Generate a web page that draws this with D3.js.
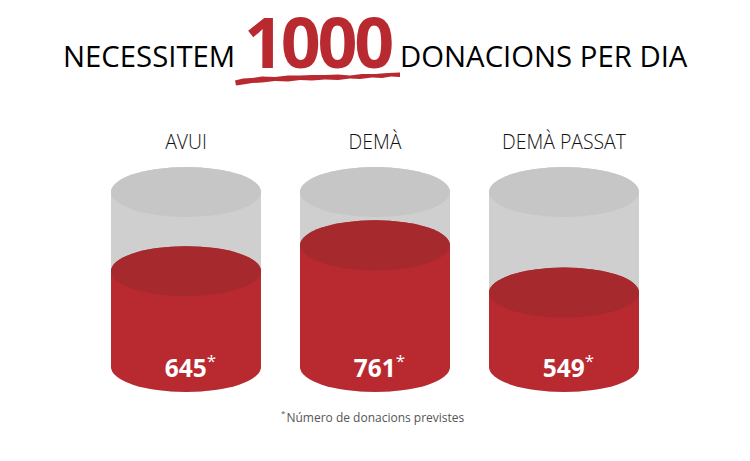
<!DOCTYPE html>
<html>
<head>
<meta charset="utf-8">
<script src="https://cdn.jsdelivr.net/npm/d3@7"></script>
<style>
  html, body { margin: 0; padding: 0; background: #fff; }
  text { font-family: "Open Sans", sans-serif; }
</style>
</head>
<body>
<svg id="chart"></svg>
<script>
const categories = ['AVUI', 'DEMÀ', 'DEMÀ PASSAT']
const donations = [645, 761, 549]
const goal = 1000
const titleLeft = 'NECESSITEM'
const titleRight = 'DONACIONS PER DIA'
const footnote = 'Número de donacions previstes'

const width = 750, height = 461
const rx = 75, ry = 25
const red = '#b92a30', redTop = '#a6292d', grey = '#cfcfcf', greyTop = '#c6c6c6'

const svg = d3.select('#chart').attr('width', width).attr('height', height)

const x = d3.scaleBand().domain(categories).range([111, 639]).paddingInner(39 / 189)
// the cylinders do not start at zero in the picture
const y = d3.scaleLinear().domain([215, goal]).range([367, 192])

// title
svg.append('text').attr('x', 63).attr('y', 67).attr('font-size', 29.3).attr('fill', '#000').text(titleLeft)
svg.append('text').attr('x', 244).attr('y', 68).attr('font-size', 70).attr('font-weight', 700)
  .attr('letter-spacing', -3.3).attr('fill', red).text(goal)
svg.append('text').attr('x', 400).attr('y', 67).attr('font-size', 29.3).attr('fill', '#000').text(titleRight)

// brush underline
svg.append('path')
  .attr('d', 'M235,80.5 L243,78.5 L252,78 L262,76.5 L275,77 L288,75.5 L300,75.5 L312,75 L325,75 L338,74.5 L350,75.5 L362,74 L375,74 L388,73 L400,72.5 ' +
    'L400,77 L391,76.5 L382,78 L372,77.5 L360,79 L350,78.5 L338,80 L325,79.5 L312,80.5 L300,80 L288,81.5 L275,81 L262,82.5 L252,83 L243,84.5 L236,85.5 Z')
  .attr('fill', red)

const cyl = svg.selectAll('g.cyl')
  .data(categories.map((c, i) => ({ category: c, value: donations[i] })))
  .join('g')
  .attr('class', 'cyl')
  .attr('transform', d => 'translate(' + (x(d.category) + x.bandwidth() / 2) + ',0)')

cyl.append('text').attr('y', 149).attr('text-anchor', 'middle').attr('font-size', 19.4)
  .attr('font-weight', 300).attr('fill', '#111').text(d => d.category)

// body shape between two ellipse centres
const body = (top, bottom) => 'M' + (-rx) + ',' + top + 'V' + bottom +
  'A' + rx + ',' + ry + ' 0 0 0 ' + rx + ',' + bottom + 'V' + top +
  'A' + rx + ',' + ry + ' 0 0 0 ' + (-rx) + ',' + top + 'Z'

cyl.append('path').attr('d', body(y(goal), y.range()[0])).attr('fill', grey)
cyl.append('ellipse').attr('cy', y(goal)).attr('rx', rx).attr('ry', ry).attr('fill', greyTop)
cyl.append('path').attr('d', d => body(y(d.value), y.range()[0])).attr('fill', red)
cyl.append('ellipse').attr('cy', d => y(d.value)).attr('rx', rx).attr('ry', ry).attr('fill', redTop)

const label = cyl.append('text').attr('x', 4.5).attr('y', 377).attr('text-anchor', 'middle')
  .attr('font-size', 24.5).attr('font-weight', 700).attr('fill', '#fff')
label.append('tspan').text(d => d.value)
label.append('tspan').attr('dy', -10).attr('font-size', 17).attr('font-weight', 400).text('*')

// footnote
const note = svg.append('text').attr('x', 281).attr('y', 422).attr('font-size', 12).attr('fill', '#555')
note.append('tspan').attr('font-size', 8).attr('dy', -6).text('*')
note.append('tspan').attr('dx', 1).attr('dy', 6).text(footnote)
</script>
</body>
</html>
